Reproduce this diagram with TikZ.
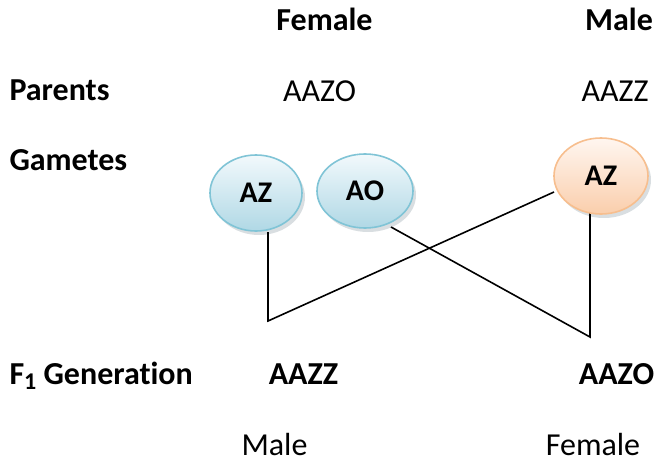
\documentclass[tikz,border=0pt]{standalone}
\usepackage{fontspec}
\setmainfont{Carlito}[Ligatures=NoCommon]
\usetikzlibrary{shapes.geometric}

\definecolor{blueedge}{RGB}{128,196,214}
\definecolor{bluetop}{RGB}{242,249,252}
\definecolor{bluebot}{RGB}{176,216,229}
\definecolor{orangeedge}{RGB}{247,190,142}
\definecolor{orangetop}{RGB}{255,246,240}
\definecolor{orangebot}{RGB}{250,206,172}
\definecolor{shadowgray}{RGB}{185,195,200}

% large lowered subscript digit
\newcommand{\lowidx}[1]{\raisebox{-0.18em}{\fontsize{24}{28}\selectfont #1}}

\tikzset{
  label/.style={inner sep=0pt, font=\fontsize{32}{38}\selectfont},
  boldlabel/.style={label, font=\fontsize{32}{38}\selectfont\bfseries},
  gamete/.style={ellipse, inner sep=0pt, font=\fontsize{30}{34}\selectfont\bfseries, line width=1.6pt},
  bluegamete/.style={gamete, draw=blueedge, top color=bluetop, bottom color=bluebot},
  orangegamete/.style={gamete, draw=orangeedge, top color=orangetop, bottom color=orangebot},
  link/.style={line width=1.6pt, black},
}

\begin{document}
\begin{tikzpicture}[x=1pt, y=-1pt]
\useasboundingbox (0,0) rectangle (662,463);

% column headings
\node[boldlabel, anchor=base] (hf) at (324.5,30.7) {Female};
\node[boldlabel, anchor=base] (hm) at (619,30.7) {Male};

% row labels
\node[boldlabel, anchor=base west] (parents) at (9.3,100.7) {Parents};
\node[boldlabel, anchor=base west] (gametes) at (9.3,170) {Gametes};
\node[boldlabel, anchor=base west] (f1) at (9.3,384) {F\lowidx{1} Generation};

% parental genotypes
\node[label, anchor=base] (pf) at (319.5,101.7) {AAZO};
\node[label, anchor=base] (pm) at (615,101.7) {AAZZ};

% gamete shadows
\foreach \cx/\cy/\rx/\ry in {256/193/46/38, 365/191/48/37, 601/176/47/38}{
  \fill[shadowgray, opacity=0.55] (\cx+3,\cy+4) ellipse [x radius=\rx pt, y radius=\ry pt];
}

% crossing lines
\coordinate (c1) at (268,232);
\coordinate (c2) at (268,321);
\coordinate (c3) at (554,192);
\coordinate (c4) at (391,227);
\coordinate (c5) at (590,337);
\coordinate (c6) at (590,213);
\draw[link] (c1) -- (c2) -- (c3);
\draw[link] (c4) -- (c5) -- (c6);

% gametes
\node[bluegamete, minimum width=92pt, minimum height=76pt] (gaz) at (256,193) {\raisebox{-2pt}{AZ}};
\node[bluegamete, minimum width=96pt, minimum height=74pt] (gao) at (365,191) {\raisebox{-2pt}{AO}};
\node[orangegamete, minimum width=94pt, minimum height=76pt] (gmz) at (601,176) {\raisebox{-2pt}{AZ}};

% offspring
\node[boldlabel, anchor=base] (o1) at (303.5,384) {AAZZ};
\node[boldlabel, anchor=base] (o2) at (616.5,384) {AAZO};
\node[label, anchor=base] (s1) at (274.5,455.5) {Male};
\node[label, anchor=base] (s2) at (593,455.5) {Female};
\end{tikzpicture}
\end{document}
